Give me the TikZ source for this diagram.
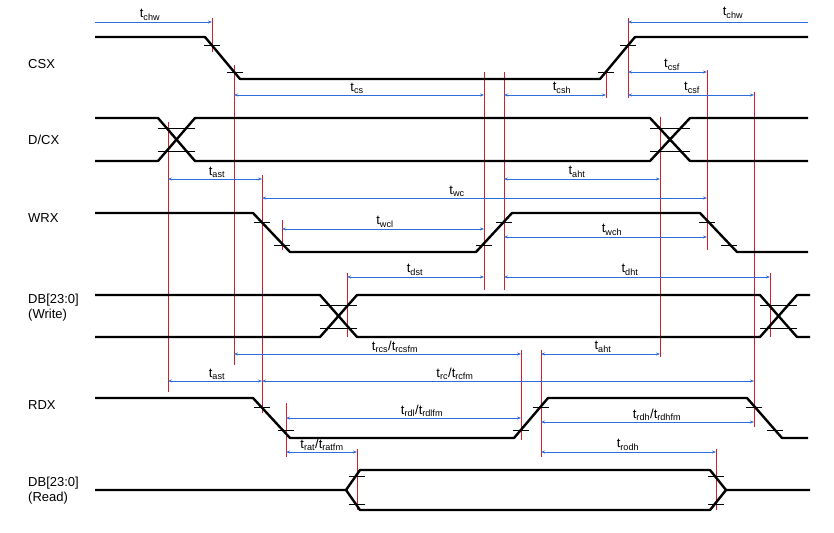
\documentclass[tikz,border=0pt]{standalone}
\usepackage{fontspec}
\setmainfont{Liberation Sans}
\usetikzlibrary{arrows.meta}
\definecolor{dimblue}{RGB}{45,110,220}
\definecolor{mred}{RGB}{210,30,40}
\begin{document}
\begin{tikzpicture}[x=1pt,y=-1pt,
  sig/.style={line width=2.4pt,line join=round},
  tk/.style={line width=0.9pt},
  rl/.style={mred,line width=0.9pt},
  dim/.style={dimblue,line width=0.8pt,{Stealth[length=4pt,width=3pt]}-{Stealth[length=4pt,width=3pt]}},
  dimr/.style={dimblue,line width=0.8pt,-{Stealth[length=4pt,width=3pt]}},
  lab/.style={font=\fontsize{13}{13}\selectfont,inner sep=0pt},
  sname/.style={font=\fontsize{13}{15}\selectfont,anchor=west,align=left,inner sep=0pt}]
\useasboundingbox (0,0) rectangle (834,532);
% names
\node[sname] (n1) at (28,64) {CSX};
\node[sname] (n2) at (28,140) {D/CX};
\node[sname] (n3) at (28,218) {WRX};
\node[sname] (n4) at (28,308) {DB[23:0]\\(Write)};
\node[sname] (n5) at (28,405) {RDX};
\node[sname] (n6) at (28,491) {DB[23:0]\\(Read)};
% red lines
\draw[rl] (212,18)--(212,52);
\draw[rl] (168,122)--(168,392);
\draw[rl] (234,65)--(234,365);
\draw[rl] (262,175)--(262,413);
\draw[rl] (282,220)--(282,250);
\draw[rl] (484,72)--(484,290);
\draw[rl] (504,72)--(504,290);
\draw[rl] (606,72)--(606,98);
\draw[rl] (628,18)--(628,98);
\draw[rl] (660,117)--(660,357);
\draw[rl] (707,70)--(707,250);
\draw[rl] (754,92)--(754,427);
\draw[rl] (347,273)--(347,337);
\draw[rl] (770,273)--(770,337);
\draw[rl] (286,403)--(286,457);
\draw[rl] (521,350)--(521,440);
\draw[rl] (541,350)--(541,457);
\draw[rl] (357,449)--(357,510);
\draw[rl] (716,449)--(716,510);
% CSX
\draw[sig] (95,37)--(205,37)--(240,79)--(600,79)--(635,37)--(808,37);
\foreach \x/\y in {212/45,235/72,606/72,628/45} \draw[tk] (\x-8,\y)--(\x+8,\y);
% D/CX
\draw[sig] (95,118)--(158,118)--(195,161)--(650,161)--(690,118)--(808,118);
\draw[sig] (95,161)--(158,161)--(195,118)--(650,118)--(690,161)--(808,161);
\foreach \a/\b in {158/195,650/690} {\draw[tk] (\a,128)--(\b,128); \draw[tk] (\a,151)--(\b,151);}
% WRX
\draw[sig] (95,213)--(253,213)--(290,252)--(476,252)--(512,213)--(700,213)--(737,252)--(808,252);
\foreach \x/\y in {262/222,282/245,484/245,504/222,707/222,729/245} \draw[tk] (\x-8,\y)--(\x+8,\y);
% DB write
\draw[sig] (95,295)--(320,295)--(357,337)--(760,337)--(797,295)--(810,295);
\draw[sig] (95,337)--(320,337)--(357,295)--(760,295)--(797,337)--(810,337);
\foreach \a/\b in {320/357,760/797} {\draw[tk] (\a,305)--(\b,305); \draw[tk] (\a,328)--(\b,328);}
% RDX
\draw[sig] (95,398)--(253,398)--(290,438)--(514,438)--(548,398)--(747,398)--(782,438)--(808,438);
\foreach \x/\y in {262/407,286/430,521/430,541/407,754/407,775/430} \draw[tk] (\x-8,\y)--(\x+8,\y);
% DB read
\draw[sig] (95,490)--(346,490)--(360,470)--(710,470)--(726,490)--(810,490);
\draw[sig] (346,490)--(360,510)--(710,510)--(726,490);
\foreach \x/\y in {357/476,357/504,716/476,716/504} \draw[tk] (\x-8,\y)--(\x+8,\y);
% dimensions
\draw[dimr] (95,22)--(212,22); \node[lab] (l1) at (150,15) {t$_{\rm chw}$};
\draw[dimr] (808,22)--(628,22); \node[lab] (l2) at (733,13) {t$_{\rm chw}$};
\draw[dim] (234,95)--(484,95); \node[lab] (l3) at (357,88) {t$_{\rm cs}$};
\draw[dim] (504,95)--(606,95); \node[lab] (l4) at (562,88) {t$_{\rm csh}$};
\draw[dim] (628,72)--(707,72); \node[lab] (l5) at (672,65) {t$_{\rm csf}$};
\draw[dim] (628,95)--(754,95); \node[lab] (l6) at (692,88) {t$_{\rm csf}$};
\draw[dim] (168,179)--(262,179); \node[lab] (l7) at (217,172) {t$_{\rm ast}$};
\draw[dim] (262,198)--(707,198); \node[lab] (l8) at (457,191) {t$_{\rm wc}$};
\draw[dim] (504,179)--(660,179); \node[lab] (l9) at (577,172) {t$_{\rm aht}$};
\draw[dim] (282,229)--(484,229); \node[lab] (l10) at (385,222) {t$_{\rm wcl}$};
\draw[dim] (504,237)--(707,237); \node[lab] (l11) at (612,230) {t$_{\rm wch}$};
\draw[dim] (347,277)--(484,277); \node[lab] (l12) at (415,270) {t$_{\rm dst}$};
\draw[dim] (504,277)--(770,277); \node[lab] (l13) at (630,270) {t$_{\rm dht}$};
\draw[dim] (234,354)--(521,354); \node[lab] (l14) at (395,347) {t$_{\rm rcs}$/t$_{\rm rcsfm}$};
\draw[dim] (541,354)--(660,354); \node[lab] (l15) at (603,347) {t$_{\rm aht}$};
\draw[dim] (168,381)--(262,381); \node[lab] (l16) at (217,374) {t$_{\rm ast}$};
\draw[dim] (262,381)--(754,381); \node[lab] (l17) at (455,374) {t$_{\rm rc}$/t$_{\rm rcfm}$};
\draw[dim] (286,418)--(521,418); \node[lab] (l18) at (422,411) {t$_{\rm rdl}$/t$_{\rm rdlfm}$};
\draw[dim] (541,422)--(754,422); \node[lab] (l19) at (657,415) {t$_{\rm rdh}$/t$_{\rm rdhfm}$};
\draw[dim] (286,452)--(357,452); \node[lab] (l20) at (322,445) {t$_{\rm rat}$/t$_{\rm ratfm}$};
\draw[dim] (541,452)--(716,452); \node[lab] (l21) at (628,445) {t$_{\rm rodh}$};
\end{tikzpicture}
\end{document}
